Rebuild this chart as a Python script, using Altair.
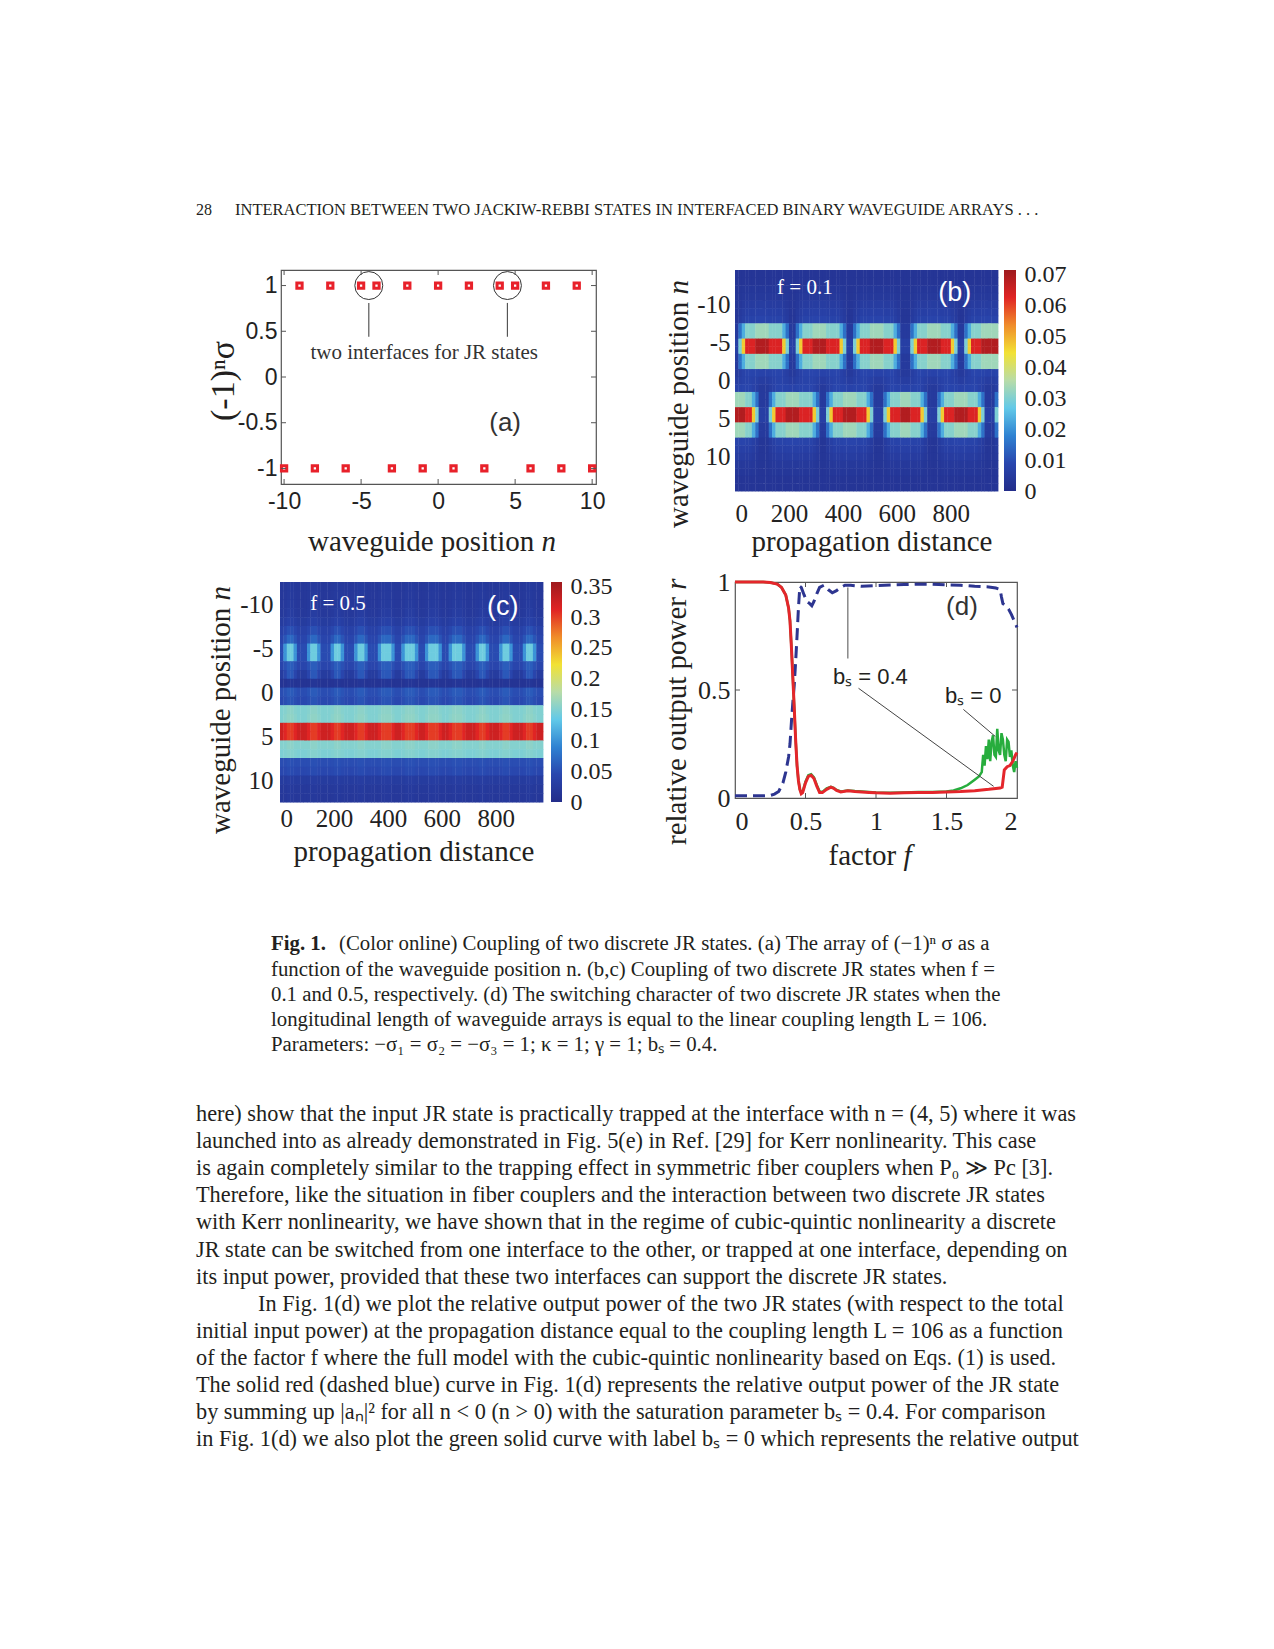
import altair as alt
import pandas as pd

SERIF = "Liberation Serif"
SANS = "Liberation Sans"
INK = "#231f20"

# ---------------- panel (a) data ----------------
A_N = [-10, -9, -8, -7, -6, -5, -4, -3, -2, -1, 0, 1, 2, 3, 4, 5, 6, 7, 8, 9, 10]
A_SIGMA = [-1, 1, -1, 1, -1, 1, 1, -1, 1, -1, 1, -1, 1, -1, 1, 1, -1, 1, -1, 1, -1]
A_RING_N = [-4.5, 4.5]
A_RING_S = [1, 1]
A_LEAD_TOP = [0.81, 0.81]
A_LEAD_BOT = [0.44, 0.44]
A_XTICKS = [-10, -5, 0, 5, 10]
A_YTICKS = [-1, -0.5, 0, 0.5, 1]

# ---------------- panel (b) data (f = 0.1) ----------------
B_N = list(range(-14, 15))
COL_W = 12.5
B_UPPER = ("1" + "468889999888864" + "11" + "468889999888864" + "11" + "46888999988864"
           + "111" + "46888999988864" + "11" + "4688899999")
B_LOWER = ("9998864" + "111" + "468889999888864" + "11" + "46888999988864" + "111"
           + "4688899988864" + "111" + "46888999988864" + "111" + "4")
LEVEL = {"1": 0.05, "4": 0.38, "6": 0.63, "8": 0.86, "9": 0.94}
B_W_UP = [0, 0, 0.01, 0.02, 0.04, 0.06, 0.08, 0.46, 0.46, 1.0, 1.0, 0.46, 0.46, 0.07, 0.04,
          0.02, 0, 0, 0, 0, 0, 0, 0, 0, 0, 0, 0, 0, 0]
B_W_LO = [0, 0, 0, 0, 0, 0, 0, 0, 0, 0, 0, 0, 0, 0.02, 0.04, 0.07, 0.46, 0.46, 1.0, 1.0,
          0.46, 0.46, 0.08, 0.06, 0.04, 0.02, 0.01, 0, 0]
B_MAX = 0.07
B_CBAR_TOP = 0.0715
B_BASE = 0.003
B_TICKS = [0, 0.01, 0.02, 0.03, 0.04, 0.05, 0.06, 0.07]

# ---------------- panel (c) data (f = 0.5) ----------------
C_N = list(range(-12, 13))
C_PAT = ("0122100012" "2100012210" "0012210001" "2221001222" "1001222100"
         "1222100012" "2100012210" "00122100")
C_GAP = [0.020, 0.020, 0.020, 0.021, 0.026, 0.036, 0.042, 0.048, 0.048, 0.042, 0.026, 0.012,
         0.050, 0.046, 0.150, 0.150, 0.325, 0.325, 0.152, 0.148, 0.050, 0.045, 0.026, 0.021, 0.020]
C_EDGE = [0.021, 0.021, 0.022, 0.024, 0.031, 0.044, 0.055, 0.100, 0.100, 0.052, 0.042, 0.013,
          0.054, 0.050, 0.152, 0.154, 0.312, 0.312, 0.152, 0.150, 0.050, 0.046, 0.026, 0.021, 0.020]
C_CORE = [0.023, 0.023, 0.025, 0.028, 0.036, 0.052, 0.070, 0.140, 0.140, 0.062, 0.058, 0.016,
          0.060, 0.055, 0.156, 0.158, 0.302, 0.302, 0.156, 0.152, 0.052, 0.048, 0.028, 0.023, 0.022]
C_MAX = 0.35
C_CBAR_TOP = 0.357
C_TICKS = [0, 0.05, 0.1, 0.15, 0.2, 0.25, 0.3, 0.35]

# ---------------- panel (d) data ----------------
D_RED_F = [0, 0.1, 0.2, 0.25, 0.3, 0.33, 0.36, 0.38, 0.39, 0.40, 0.41, 0.42, 0.43, 0.44, 0.45,
           0.46, 0.47, 0.48, 0.5, 0.52, 0.54, 0.56, 0.58, 0.6, 0.62, 0.65, 0.68, 0.7, 0.72, 0.75,
           0.8, 0.85, 0.9, 0.95, 1.0, 1.1, 1.2, 1.3, 1.4, 1.5, 1.6, 1.7, 1.75, 1.8, 1.85,
           1.88, 1.895, 1.91, 1.93, 1.95, 1.97, 1.99, 2.0]
D_RED_R = [1, 1, 1, 0.998, 0.99, 0.975, 0.94, 0.88, 0.82, 0.7, 0.56, 0.42, 0.27, 0.15, 0.08,
           0.04, 0.02, 0.025, 0.07, 0.1, 0.105, 0.09, 0.055, 0.025, 0.025, 0.04, 0.05, 0.045, 0.035, 0.028,
           0.033, 0.03, 0.028, 0.026, 0.024, 0.022, 0.024, 0.026, 0.026, 0.028, 0.03, 0.034, 0.037, 0.04, 0.044,
           0.046, 0.05, 0.13, 0.145, 0.15, 0.17, 0.2, 0.21]
D_BLUE_F = [0, 0.1, 0.2, 0.25, 0.28, 0.31, 0.34, 0.36, 0.38, 0.39, 0.40, 0.41, 0.42, 0.43, 0.44,
            0.45, 0.46, 0.47, 0.49, 0.51, 0.53, 0.545, 0.56, 0.58, 0.6, 0.63, 0.66, 0.69, 0.72, 0.75,
            0.78, 0.82, 0.9, 1.0, 1.1, 1.2, 1.3, 1.4, 1.5, 1.6, 1.7, 1.8, 1.85, 1.88, 1.89,
            1.9, 1.92, 1.94, 1.96, 1.98, 2.0]
D_BLUE_R = [0.01, 0.01, 0.01, 0.012, 0.018, 0.03, 0.07, 0.12, 0.19, 0.25, 0.35, 0.44, 0.52, 0.63, 0.75,
            0.88, 0.98, 0.975, 0.94, 0.91, 0.9, 0.89, 0.91, 0.945, 0.975, 0.985, 0.965, 0.95, 0.96, 0.975,
            0.985, 0.985, 0.98, 0.983, 0.986, 0.988, 0.99, 0.99, 0.987, 0.985, 0.98, 0.977, 0.972, 0.966, 0.93,
            0.9, 0.89, 0.875, 0.85, 0.82, 0.79]
D_GREEN_F = [0, 0.1, 0.2, 0.25, 0.3, 0.33, 0.36, 0.38, 0.39, 0.40, 0.41, 0.42, 0.43, 0.44, 0.45,
             0.46, 0.47, 0.48, 0.5, 0.52, 0.54, 0.56, 0.58, 0.6, 0.62, 0.65, 0.68, 0.7, 0.72, 0.75,
             0.8, 0.85, 0.9, 0.95, 1.0, 1.1, 1.2, 1.3, 1.4, 1.5, 1.55, 1.6, 1.65, 1.7, 1.73,
             1.75, 1.76, 1.77, 1.78, 1.79, 1.8, 1.81, 1.82, 1.83, 1.84, 1.85, 1.86, 1.87, 1.88, 1.89,
             1.9, 1.91, 1.92, 1.93, 1.94, 1.95, 1.96, 1.97, 1.98, 1.99, 2.0]
D_GREEN_R = [1, 1, 1, 0.998, 0.99, 0.975, 0.94, 0.88, 0.82, 0.7, 0.56, 0.42, 0.27, 0.15, 0.08,
             0.04, 0.025, 0.03, 0.075, 0.105, 0.11, 0.095, 0.06, 0.03, 0.028, 0.045, 0.052, 0.047, 0.037, 0.03,
             0.035, 0.032, 0.03, 0.028, 0.026, 0.024, 0.026, 0.028, 0.028, 0.03, 0.035, 0.045, 0.06, 0.085, 0.1,
             0.12, 0.2, 0.15, 0.24, 0.18, 0.27, 0.17, 0.26, 0.29, 0.2, 0.19, 0.32, 0.22, 0.2, 0.3,
             0.27, 0.2, 0.17, 0.27, 0.26, 0.19, 0.22, 0.15, 0.12, 0.17, 0.14]
D_XTICKS = [0.5, 1, 1.5]
D_YTICKS = [0.5]

# washed "jet" colour map, evenly spaced stops
JET = ["#232d8a", "#2946ae", "#2f82d2", "#62c9e8", "#b8dca8", "#f2e234", "#f08c2a", "#e02424", "#9e1a1e"]
FRAME = "#555555"


def stops(vmax):
    return [vmax * k / 8 for k in range(9)]


def txt(s, x, y, size, font=SERIF, angle=0, align="center", baseline="middle",
        color=INK, style="normal", weight="normal"):
    return alt.Chart(pd.DataFrame({"t": [s]})).mark_text(
        font=font, fontSize=size, angle=angle, align=align, baseline=baseline,
        color=color, fontStyle=style, fontWeight=weight,
    ).encode(x=alt.value(x), y=alt.value(y), text="t:N")


def dtxt(s, xf, xv, yf, yv, axx, axy, size, font=SANS, color=INK):
    return alt.Chart(pd.DataFrame({xf: [xv], yf: [yv], "t": [s]})).mark_text(
        font=font, fontSize=size, color=color, align="center", baseline="middle",
    ).encode(x=alt.X(f"{xf}:Q", axis=axx), y=alt.Y(f"{yf}:Q", axis=axy), text="t:N")


def spacer(w, h):
    return alt.Chart(pd.DataFrame({"z": [0]})).mark_point(opacity=0, size=1).encode(
        x=alt.value(w / 2), y=alt.value(h / 2)
    ).properties(width=w, height=h)


def ax(values, font, size, pad, expr="datum.value + ''", orient="bottom"):
    return alt.Axis(values=values, labelExpr=expr, labelFont=font, labelFontSize=size,
                    labelColor="#222222", ticks=False, domain=False, grid=False,
                    labelPadding=pad, title=None, labelOverlap=False, orient=orient)


def inner_ticks(xf, xvals, yf, yvals, axx, axy, w, h, ln=5):
    """MATLAB-style inward ticks on all four sides of a framed panel."""
    out = []
    dx = pd.DataFrame({xf: xvals})
    dy = pd.DataFrame({yf: yvals})
    for y0, y1 in ((h, h - ln), (0, ln)):
        out.append(alt.Chart(dx).mark_rule(color=FRAME, strokeWidth=1).encode(
            x=alt.X(f"{xf}:Q", axis=axx), y=alt.value(y0), y2=alt.value(y1)))
    for x0, x1 in ((0, ln), (w, w - ln)):
        out.append(alt.Chart(dy).mark_rule(color=FRAME, strokeWidth=1).encode(
            y=alt.Y(f"{yf}:Q", axis=axy), x=alt.value(x0), x2=alt.value(x1)))
    return out


def colorbar(vtop, ticks, h, w):
    grad = alt.LinearGradient(
        gradient="linear", x1=0, x2=0, y1=1, y2=0,
        stops=[alt.GradientStop(color=c, offset=k / 8) for k, c in enumerate(JET)])
    return alt.Chart(pd.DataFrame({"v0": [0], "v1": [vtop]})).mark_rect(color=grad).encode(
        y=alt.Y("v0:Q", scale=alt.Scale(domain=[0, vtop], nice=False, zero=False),
                axis=ax(ticks, SERIF, 24, 8, orient="right")),
        y2="v1:Q", x=alt.value(0), x2=alt.value(w),
    ).properties(width=w, height=h)


# ================= panel (a) =================
xa = alt.Scale(domain=[-10.2, 10.25], nice=False, zero=False)
ya = alt.Scale(domain=[-1.17, 1.17], nice=False, zero=False)
AXA_X = ax([-10, -5, 0, 5, 10], SANS, 23, 6)
AXA_Y = ax([-1, -0.5, 0, 0.5, 1], SANS, 23, 4, orient="left")
pts_a = alt.Chart(pd.DataFrame({"n": A_N, "s": A_SIGMA})).mark_point(
    shape="square", filled=False, color="#e8212a", strokeWidth=3, size=28, opacity=1
).encode(x=alt.X("n:Q", scale=xa, axis=AXA_X), y=alt.Y("s:Q", scale=ya, axis=AXA_Y))
rings_a = alt.Chart(pd.DataFrame({"n": A_RING_N, "s": A_RING_S})).mark_point(
    shape="circle", filled=False, color="#333333", strokeWidth=1, size=780, opacity=1
).encode(x=alt.X("n:Q", axis=AXA_X), y=alt.Y("s:Q", axis=AXA_Y))
lead_a = alt.Chart(pd.DataFrame({"n": A_RING_N, "s": A_LEAD_TOP, "s2": A_LEAD_BOT})).mark_rule(
    color="#555555", strokeWidth=1.2
).encode(x=alt.X("n:Q", axis=AXA_X), y=alt.Y("s:Q", axis=AXA_Y), y2="s2:Q")
panel_a = alt.layer(
    pts_a, rings_a, lead_a,
    *inner_ticks("n", A_XTICKS, "s", A_YTICKS, AXA_X, AXA_Y, 315, 214),
    dtxt("two interfaces for JR states", "n", -0.9, "s", 0.26, AXA_X, AXA_Y, 21, font=SERIF, color="#333333"),
    dtxt("(a)", "n", 4.35, "s", -0.5, AXA_X, AXA_Y, 26, font=SANS, color="#333333"),
    txt("(-1)ⁿσ", -57, 111, 34, angle=270),
    txt("waveguide position", 27, 272, 29, align="left"),
    txt("n", 260.6, 272, 29, align="left", style="italic"),
).properties(width=315, height=214, view=alt.ViewBackground(stroke=FRAME, strokeWidth=1.2))

# ================= panel (b) =================
rows_b = []
for i, n in enumerate(B_N):
    for j in range(len(B_UPPER)):
        v = B_BASE + B_MAX * (LEVEL[B_UPPER[j]] * B_W_UP[i] + LEVEL[B_LOWER[j]] * B_W_LO[i])
        rows_b.append({"x0": j * COL_W, "x1": (j + 1) * COL_W + 1.5, "n0": n - 0.5, "n1": n + 0.56, "vb": v})
df_b = pd.DataFrame(rows_b)
cs_b = alt.Scale(domain=stops(B_CBAR_TOP), range=JET, interpolate="rgb", clamp=True)
xb = alt.Scale(domain=[0, 975], nice=False, zero=False)
yb = alt.Scale(domain=[-14.5, 14.5], reverse=True, nice=False, zero=False)
AXB_X = ax([0, 200, 400, 600, 800], SERIF, 25, 10)
AXB_Y = ax([-10, -5, 0, 5, 10], SERIF, 25, 5, orient="left")
heat_b = alt.Chart(df_b).mark_rect(strokeWidth=0).encode(
    x=alt.X("x0:Q", scale=xb, axis=AXB_X), x2="x1:Q",
    y=alt.Y("n0:Q", scale=yb, axis=AXB_Y), y2="n1:Q",
    color=alt.Color("vb:Q", scale=cs_b, legend=None),
)
panel_b = alt.layer(
    heat_b,
    dtxt("f = 0.1", "x0", 259, "n0", -12.1, AXB_X, AXB_Y, 21, font=SERIF, color="white"),
    dtxt("(b)", "x0", 815, "n0", -11.5, AXB_X, AXB_Y, 27, font=SANS, color="white"),
    txt("waveguide position", -56, 258, 29, angle=270, align="left"),
    txt("n", -56, 24.4, 29, angle=270, align="left", style="italic"),
    txt("propagation distance", 137, 272, 29),
).properties(width=263, height=221)

# ================= panel (c) =================
rows_c = []
for i, n in enumerate(C_N):
    for j, ch in enumerate(C_PAT):
        v = [C_GAP, C_EDGE, C_CORE][int(ch)][i]
        rows_c.append({"x0": j * COL_W, "x1": (j + 1) * COL_W + 1.5, "n0": n - 0.5, "n1": n + 0.56, "vc": v})
df_c = pd.DataFrame(rows_c)
cs_c = alt.Scale(domain=stops(C_CBAR_TOP), range=JET, interpolate="rgb", clamp=True)
xc = alt.Scale(domain=[0, 975], nice=False, zero=False)
yc = alt.Scale(domain=[-12.5, 12.5], reverse=True, nice=False, zero=False)
AXC_X = ax([0, 200, 400, 600, 800], SERIF, 25, 4)
AXC_Y = ax([-10, -5, 0, 5, 10], SERIF, 25, 7, orient="left")
heat_c = alt.Chart(df_c).mark_rect(strokeWidth=0).encode(
    x=alt.X("x0:Q", scale=xc, axis=AXC_X), x2="x1:Q",
    y=alt.Y("n0:Q", scale=yc, axis=AXC_Y), y2="n1:Q",
    color=alt.Color("vc:Q", scale=cs_c, legend=None),
)
panel_c = alt.layer(
    heat_c,
    dtxt("f = 0.5", "x0", 215, "n0", -10, AXC_X, AXC_Y, 21, font=SERIF, color="white"),
    dtxt("(c)", "x0", 826, "n0", -9.7, AXC_X, AXC_Y, 27, font=SANS, color="white"),
    txt("waveguide position", -59, 252, 29, angle=270, align="left"),
    txt("n", -59, 18.4, 29, angle=270, align="left", style="italic"),
    txt("propagation distance", 134, 270, 29),
).properties(width=263, height=220)

# ================= panel (d) =================
xd = alt.Scale(domain=[0, 2], nice=False, zero=False)
yd = alt.Scale(domain=[0, 1], nice=False, zero=False)
AXD_X = ax([0, 0.5, 1, 1.5, 2], SERIF, 26, 10)
AXD_Y = ax([0, 0.5, 1], SERIF, 26, 5, orient="left")
blue_d = alt.Chart(pd.DataFrame({"f": D_BLUE_F, "r": D_BLUE_R})).mark_line(
    color="#2d3590", strokeWidth=3, strokeDash=[12, 6]
).encode(x=alt.X("f:Q", scale=xd, axis=AXD_X), y=alt.Y("r:Q", scale=yd, axis=AXD_Y))
green_d = alt.Chart(pd.DataFrame({"f": D_GREEN_F, "r": D_GREEN_R})).mark_line(
    color="#27ad3d", strokeWidth=2.5
).encode(x=alt.X("f:Q", axis=AXD_X), y=alt.Y("r:Q", axis=AXD_Y))
red_d = alt.Chart(pd.DataFrame({"f": D_RED_F, "r": D_RED_R})).mark_line(
    color="#e4262b", strokeWidth=3
).encode(x=alt.X("f:Q", axis=AXD_X), y=alt.Y("r:Q", axis=AXD_Y))
vline_d = alt.Chart(pd.DataFrame({"f": [0.8], "r": [0.975], "r2": [0.646]})).mark_rule(
    color="#888888", strokeWidth=1.5
).encode(x=alt.X("f:Q", axis=AXD_X), y=alt.Y("r:Q", axis=AXD_Y), y2="r2:Q")
diag_d = alt.Chart(pd.DataFrame({"f": [0.876, 1.62], "f2": [1.834, 1.846],
                                 "r": [0.508, 0.41], "r2": [0.054, 0.285]})).mark_rule(
    color="#444444", strokeWidth=1
).encode(x=alt.X("f:Q", axis=AXD_X), x2="f2:Q", y=alt.Y("r:Q", axis=AXD_Y), y2="r2:Q")
panel_d = alt.layer(
    *inner_ticks("f", D_XTICKS, "r", D_YTICKS, AXD_X, AXD_Y, 282, 216),
    blue_d, green_d, red_d, vline_d, diag_d,
    dtxt("bₛ = 0.4", "f", 0.96, "r", 0.56, AXD_X, AXD_Y, 22),
    dtxt("bₛ = 0", "f", 1.69, "r", 0.47, AXD_X, AXD_Y, 22),
    dtxt("(d)", "f", 1.61, "r", 0.885, AXD_X, AXD_Y, 26, color="#333333"),
    txt("relative output power", -58, 263, 29, angle=270, align="left"),
    txt("r", -58, 7.7, 29, angle=270, align="left", style="italic"),
    txt("factor", 93.5, 274, 29, align="left"),
    txt("f", 168.4, 274, 29, align="left", style="italic"),
).properties(width=282, height=216, view=alt.ViewBackground(stroke=FRAME, strokeWidth=1.2))

# ================= page text =================
W = 1258
header = alt.layer(
    txt("28", 188, 202, 16, align="left"),
    txt("INTERACTION BETWEEN TWO JACKIW-REBBI STATES IN INTERFACED BINARY WAVEGUIDE ARRAYS . . .",
        227, 202, 16.5, align="left"),
).properties(width=W, height=253.6)

CAPTION = [
    "(Color online) Coupling of two discrete JR states.  (a) The array of (−1)ⁿ σ as a",
    "function of the waveguide position n.  (b,c) Coupling of two discrete JR states when f =",
    "0.1 and 0.5, respectively.  (d) The switching character of two discrete JR states when the",
    "longitudinal length of waveguide arrays is equal to the linear coupling length L = 106.",
    "Parameters:  −σ₁ = σ₂ = −σ₃ = 1; κ = 1; γ = 1; bₛ = 0.4.",
]
BODY = [
    "here) show that the input JR state is practically trapped at the interface with n = (4, 5) where it was",
    "launched into as already demonstrated in Fig. 5(e) in Ref. [29] for Kerr nonlinearity.  This case",
    "is again completely similar to the trapping effect in symmetric fiber couplers when P₀ ≫ Pc [3].",
    "Therefore, like the situation in fiber couplers and the interaction between two discrete JR states",
    "with Kerr nonlinearity, we have shown that in the regime of cubic-quintic nonlinearity a discrete",
    "JR state can be switched from one interface to the other, or trapped at one interface, depending on",
    "its input power, provided that these two interfaces can support the discrete JR states.",
    "In Fig. 1(d) we plot the relative output power of the two JR states (with respect to the total",
    "initial input power) at the propagation distance equal to the coupling length L = 106 as a function",
    "of the factor f where the full model with the cubic-quintic nonlinearity based on Eqs. (1) is used.",
    "The solid red (dashed blue) curve in Fig. 1(d) represents the relative output power of the JR state",
    "by summing up |aₙ|² for all n < 0 (n > 0) with the saturation parameter bₛ = 0.4. For comparison",
    "in Fig. 1(d) we also plot the green solid curve with label bₛ = 0 which represents the relative output",
]
CAP_Y = [62, 88, 113, 138, 163]
text_layers = [txt("Fig. 1.", 263, CAP_Y[0], 20.8, align="left", weight="bold")]
for k, line in enumerate(CAPTION):
    text_layers.append(txt(line, 331 if k == 0 else 263, CAP_Y[k], 20.8, align="left"))
for k, line in enumerate(BODY):
    text_layers.append(txt(line, 250 if k == 7 else 188, 232 + 27.1 * k, 22.3, align="left"))
body = alt.layer(*text_layers).properties(width=W, height=759)

# ================= assemble =================
row1 = alt.hconcat(spacer(273, 298), panel_a, spacer(139, 10), panel_b, spacer(6, 10),
                   colorbar(B_CBAR_TOP, B_TICKS, 221, 12),
                   spacing=0, bounds="flush").resolve_scale(color="independent")
row2 = alt.hconcat(spacer(272, 300), panel_c, spacer(8, 10), colorbar(C_CBAR_TOP, C_TICKS, 220, 11),
                   spacer(173, 10), panel_d,
                   spacing=0, bounds="flush").resolve_scale(color="independent")

chart = alt.vconcat(header, row1, row2, body, spacing=0).resolve_scale(
    color="independent"
).properties(padding=0, background="white").configure_view(strokeWidth=0)

chart.save("out.html", embed_options={"renderer": "svg", "actions": False})
